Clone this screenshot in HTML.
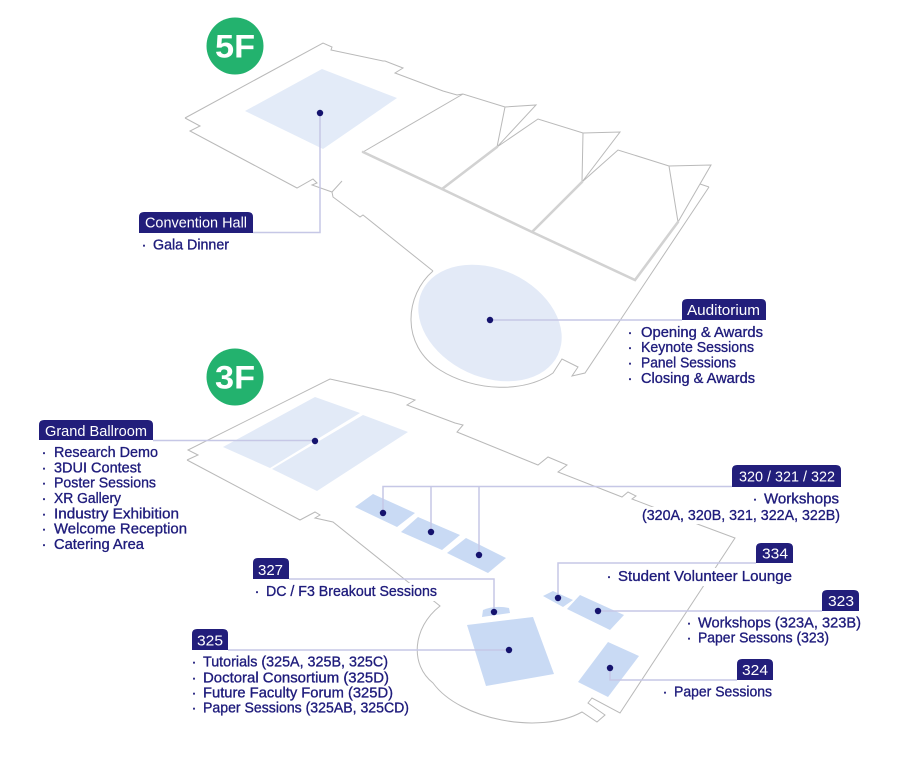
<!DOCTYPE html>
<html><head><meta charset="utf-8"><style>
html,body{margin:0;padding:0;background:#fff;}
svg{display:block;}
text{font-family:"Liberation Sans",sans-serif;}
.t{font-size:15px;fill:#1f1c7c;stroke:#1f1c7c;stroke-width:0.35px;}
.b{font-size:14.8px;fill:#fff;}
.ol{fill:none;stroke:#b9b9b9;stroke-width:1;stroke-linejoin:miter;}
.th{fill:none;stroke:#d2d2d2;stroke-width:2.6;stroke-linecap:round;}
.ld{fill:none;stroke:#c6c7e6;stroke-width:1.5;}
.dt{fill:#15136e;}
.bx{fill:#221e7b;}
</style></head><body>
<svg width="907" height="768" viewBox="0 0 907 768" xmlns="http://www.w3.org/2000/svg">
<!-- ===== 5F ===== -->
<circle cx="235" cy="46" r="28.5" fill="#23b26e"/>
<text x="235" y="57.5" text-anchor="middle" font-size="32" font-weight="bold" fill="#fff" textLength="40" lengthAdjust="spacingAndGlyphs">5F</text>

<!-- convention hall building -->
<path class="ol" d="M185,118 L323,43 L332,47 L331,50 L383,61 L385,61 L403,68 L395,73 L443,91 L457,95 L463,94"/>
<path class="ol" d="M185,118 L200,126 L190,131 L297,188 L313,179 L317,183 L312,185 L332,192 L342,181"/>
<path class="ol" d="M332,192 L333,197 L360,217 L363,215 L433,271"/>
<polygon points="245,111 322,69 397,98 323,149" fill="#e3ebf8"/>

<!-- auditorium -->
<path class="ol" d="M433,271 C405,295 400,345 440,370 C475,392 525,393 553,373 L562,359 L578,367 L572,376 L585,373 L709,187"/>
<path class="ol" d="M700,184 L709,187"/>
<ellipse cx="490" cy="323" rx="75" ry="54" transform="rotate(25 490 323)" fill="#e3eaf7"/>

<!-- wing rooms -->
<g fill="#fff">
<polygon points="363,152 463,94 505,107 536,105 497,147 442,189"/>
<polygon points="442,189 538,119 583,133 620,132 582,182 532,232"/>
<polygon points="532,232 618,150 669,166 711,165 678,222 635,280"/>
</g>
<path class="ol" d="M363,152 L463,94 L505,107 L536,105 L497,147 M505,107 L497,147 M497,147 L538,119 L583,133 L620,132 L582,182 M583,133 L582,182 M582,182 L618,150 L669,166 L711,165 L678,222 M669,166 L678,222"/>
<path class="th" d="M363,152 L442,189 L532,232 L635,280 L678,222 M442,189 L497,147 M532,232 L582,182"/>

<!-- ===== 3F ===== -->
<circle cx="235" cy="377" r="28.5" fill="#23b26e"/>
<text x="235" y="388.5" text-anchor="middle" font-size="32" font-weight="bold" fill="#fff" textLength="40" lengthAdjust="spacingAndGlyphs">3F</text>

<path class="ol" d="M187,460 L198,455 L188,450 L330,379 L393,393 L415,400 L407,405 L455,423 L463,425 L457,432 L538,465 L548,457 L567,465 L558,472 L622,497 L628,492 L636,496 L632,499 L700,525 L735,538 L620,713 L592,698 L588,703 L605,715 L597,722 L582,712 C540,735 460,720 433,683 C410,665 412,628 440,606 L435,602 L408,582 L333,522 L315,518 L320,515 L315,512 L300,520 L187,460"/>

<!-- ballroom -->
<polygon points="223,447 315,397 360,413 270,468" fill="#e2eaf7"/>
<polygon points="272,469 363,415 408,432 317,491" fill="#e2eaf7"/>

<!-- small rooms -->
<g fill="#c9daf4">
<polygon points="355,507 373,494 415,513 397,527"/>
<polygon points="401,532 418,517 460,535 442,550"/>
<polygon points="447,553 466,538 506,558 488,573"/>
<polygon points="543,596 553,591 573,600 563,607"/>
<polygon points="567,609 580,595 624,615 610,630"/>
<polygon points="578,682 608,642 639,656 608,697"/>
<polygon points="467,625 533,617 554,674 486,686"/>
<path d="M482,617 L483,610 Q495,605 509,608 L510,613 Z"/>
</g>

<!-- ===== leaders ===== -->
<path class="ld" d="M253,232.5 H320 V113"/>
<path class="ld" d="M490,320 H682"/>
<path class="ld" d="M153,440.5 H315"/>
<path class="ld" d="M383,513 V486.5 H732 M431,486.5 V532 M479,486.5 V555"/>
<path class="ld" d="M558,598 V563 H756"/>
<path class="ld" d="M289,579 H494 V612"/>
<path class="ld" d="M598,611 H822"/>
<path class="ld" d="M228,650 H509"/>
<path class="ld" d="M610,668 V680 H737"/>

<!-- dots -->
<g class="dt">
<circle cx="320" cy="113" r="3.2"/>
<circle cx="490" cy="320" r="3.2"/>
<circle cx="315" cy="441" r="3.2"/>
<circle cx="383" cy="513" r="3.2"/>
<circle cx="431" cy="532" r="3.2"/>
<circle cx="479" cy="555" r="3.2"/>
<circle cx="558" cy="598" r="3.2"/>
<circle cx="598" cy="611" r="3.2"/>
<circle cx="610" cy="668" r="3.2"/>
<circle cx="494" cy="612" r="3.2"/>
<circle cx="509" cy="650" r="3.2"/>
</g>

<!-- ===== label boxes ===== -->
<g class="bx">
<path d="M139,233 V217 Q139,212 144,212 H248 Q253,212 253,217 V233 Z"/>
<path d="M682,320 V304 Q682,299 687,299 H761 Q766,299 766,304 V320 Z"/>
<path d="M39,440 V425 Q39,420 44,420 H148 Q153,420 153,425 V440 Z"/>
<path d="M732,487 V470 Q732,465 737,465 H836 Q841,465 841,470 V487 Z"/>
<path d="M756,563 V548 Q756,543 761,543 H788 Q793,543 793,548 V563 Z"/>
<path d="M253,579 V563 Q253,558 258,558 H284 Q289,558 289,563 V579 Z"/>
<path d="M822,611 V595 Q822,590 827,590 H854 Q859,590 859,595 V611 Z"/>
<path d="M192,650 V634 Q192,629 197,629 H223 Q228,629 228,634 V650 Z"/>
<path d="M737,680 V664 Q737,659 742,659 H768 Q773,659 773,664 V680 Z"/>
</g>
<text class="b" x="145" y="227.7" textLength="102" lengthAdjust="spacingAndGlyphs">Convention Hall</text>
<text class="b" x="687" y="315" textLength="73" lengthAdjust="spacingAndGlyphs">Auditorium</text>
<text class="b" x="45" y="436" textLength="102" lengthAdjust="spacingAndGlyphs">Grand Ballroom</text>
<text class="b" x="739" y="481.5" textLength="96" lengthAdjust="spacingAndGlyphs">320 / 321 / 322</text>
<text class="b" x="762" y="558.5" textLength="26" lengthAdjust="spacingAndGlyphs">334</text>
<text class="b" x="258" y="575" textLength="25" lengthAdjust="spacingAndGlyphs">327</text>
<text class="b" x="828" y="606" textLength="26" lengthAdjust="spacingAndGlyphs">323</text>
<text class="b" x="197" y="645.7" textLength="26" lengthAdjust="spacingAndGlyphs">325</text>
<text class="b" x="742" y="675" textLength="26" lengthAdjust="spacingAndGlyphs">324</text>

<!-- white backgrounds behind texts crossing outlines -->
<rect x="640" y="507" width="203" height="17" fill="#fff"/>
<rect x="614" y="568" width="182" height="18" fill="#fff"/>
<rect x="262" y="583" width="178" height="18" fill="#fff"/>

<!-- ===== lists ===== -->
<g class="t">
<text x="144" y="249.3" text-anchor="middle">·</text>
<text x="153" y="249.3" textLength="76" lengthAdjust="spacingAndGlyphs">Gala Dinner</text>

<text x="630" y="337" text-anchor="middle">·</text>
<text x="641" y="337" textLength="122" lengthAdjust="spacingAndGlyphs">Opening &amp; Awards</text>
<text x="630" y="352" text-anchor="middle">·</text>
<text x="641" y="352" textLength="113" lengthAdjust="spacingAndGlyphs">Keynote Sessions</text>
<text x="630" y="367.5" text-anchor="middle">·</text>
<text x="641" y="367.5" textLength="95" lengthAdjust="spacingAndGlyphs">Panel Sessions</text>
<text x="630" y="383" text-anchor="middle">·</text>
<text x="641" y="383" textLength="114" lengthAdjust="spacingAndGlyphs">Closing &amp; Awards</text>

<text x="44" y="457" text-anchor="middle">·</text>
<text x="54" y="457" textLength="104" lengthAdjust="spacingAndGlyphs">Research Demo</text>
<text x="44" y="472.3" text-anchor="middle">·</text>
<text x="54" y="472.3" textLength="87" lengthAdjust="spacingAndGlyphs">3DUI Contest</text>
<text x="44" y="487.7" text-anchor="middle">·</text>
<text x="54" y="487.7" textLength="102" lengthAdjust="spacingAndGlyphs">Poster Sessions</text>
<text x="44" y="503" text-anchor="middle">·</text>
<text x="54" y="503" textLength="67" lengthAdjust="spacingAndGlyphs">XR Gallery</text>
<text x="44" y="518.3" text-anchor="middle">·</text>
<text x="54" y="518.3" textLength="125" lengthAdjust="spacingAndGlyphs">Industry Exhibition</text>
<text x="44" y="533.7" text-anchor="middle">·</text>
<text x="54" y="533.7" textLength="133" lengthAdjust="spacingAndGlyphs">Welcome Reception</text>
<text x="44" y="549" text-anchor="middle">·</text>
<text x="54" y="549" textLength="90" lengthAdjust="spacingAndGlyphs">Catering Area</text>

<text x="755" y="503.3" text-anchor="middle">·</text>
<text x="764" y="503.3" textLength="75" lengthAdjust="spacingAndGlyphs">Workshops</text>
<text x="642" y="520" textLength="198" lengthAdjust="spacingAndGlyphs">(320A, 320B, 321, 322A, 322B)</text>

<text x="609" y="581" text-anchor="middle">·</text>
<text x="618" y="581" textLength="174" lengthAdjust="spacingAndGlyphs">Student Volunteer Lounge</text>

<text x="689" y="627.3" text-anchor="middle">·</text>
<text x="698" y="627.3" textLength="163" lengthAdjust="spacingAndGlyphs">Workshops (323A, 323B)</text>
<text x="689" y="642.7" text-anchor="middle">·</text>
<text x="698" y="642.7" textLength="131" lengthAdjust="spacingAndGlyphs">Paper Sessons (323)</text>

<text x="665" y="696.7" text-anchor="middle">·</text>
<text x="674" y="696.7" textLength="98" lengthAdjust="spacingAndGlyphs">Paper Sessions</text>

<text x="257" y="596" text-anchor="middle">·</text>
<text x="266" y="596" textLength="171" lengthAdjust="spacingAndGlyphs">DC / F3 Breakout Sessions</text>

<text x="194" y="666.7" text-anchor="middle">·</text>
<text x="203" y="666.7" textLength="185" lengthAdjust="spacingAndGlyphs">Tutorials (325A, 325B, 325C)</text>
<text x="194" y="682.3" text-anchor="middle">·</text>
<text x="203" y="682.3" textLength="186" lengthAdjust="spacingAndGlyphs">Doctoral Consortium (325D)</text>
<text x="194" y="697.7" text-anchor="middle">·</text>
<text x="203" y="697.7" textLength="190" lengthAdjust="spacingAndGlyphs">Future Faculty Forum (325D)</text>
<text x="194" y="712.7" text-anchor="middle">·</text>
<text x="203" y="712.7" textLength="206" lengthAdjust="spacingAndGlyphs">Paper Sessions (325AB, 325CD)</text>
</g>
</svg>
</body></html>
